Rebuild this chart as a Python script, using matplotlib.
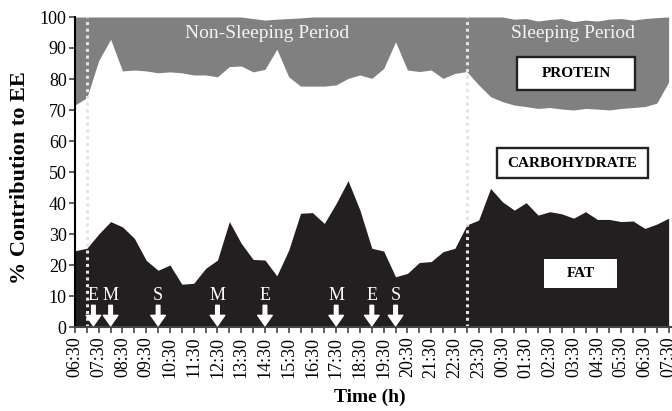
import matplotlib
matplotlib.use("Agg")
import matplotlib.pyplot as plt
import numpy as np

plt.rcParams['font.family'] = ['Liberation Serif', 'DejaVu Serif']

# half-hour steps from 06:30 to 07:30 next day
hours = ['06:30', '07:30', '08:30', '09:30', '10:30', '11:30', '12:30', '13:30',
         '14:30', '15:30', '16:30', '17:30', '18:30', '19:30', '20:30', '21:30',
         '22:30', '23:30', '00:30', '01:30', '02:30', '03:30', '04:30', '05:30',
         '06:30', '07:30']

fat = [24.6, 25.4, 30.0, 34.0, 32.3, 28.6, 21.5, 18.3, 20.0, 13.8, 14.1, 18.9,
       21.6, 34.0, 27.0, 21.8, 21.6, 16.5, 24.8, 36.7, 36.9, 33.4, 39.9, 47.2,
       37.7, 25.4, 24.5, 16.2, 17.3, 20.8, 21.1, 24.3, 25.4, 32.9, 34.5, 44.7,
       40.4, 37.7, 40.1, 36.1, 37.2, 36.5, 35.1, 37.2, 34.7, 34.7, 34.0, 34.2,
       31.8, 33.2, 35.1]

# fat + carbohydrate (lower edge of the protein band)
carb_top = [71.6, 74.0, 86.0, 92.8, 82.6, 82.9, 82.6, 82.0, 82.3, 82.0, 81.3,
            81.3, 80.7, 84.0, 84.2, 82.3, 83.1, 89.6, 80.7, 77.7, 77.7, 77.7,
            78.1, 80.2, 81.3, 80.2, 83.4, 92.0, 82.9, 82.4, 82.9, 80.2, 81.8,
            82.4, 78.1, 74.3, 72.7, 71.6, 71.1, 70.5, 70.8, 70.3, 70.0, 70.5,
            70.3, 70.0, 70.5, 70.8, 71.1, 72.2, 79.0]

# upper edge of the protein band
total = [100, 100, 100, 100, 100, 100, 100, 100, 100, 100, 100, 100, 100, 100,
         100, 99.5, 99.0, 99.3, 99.5, 99.7, 100, 100, 100, 100, 100, 100, 100,
         100, 100, 100, 100, 100, 100, 100, 100, 100, 100, 99.3, 99.5, 98.7,
         99.2, 99.5, 98.5, 99.0, 98.7, 99.3, 99.5, 99.0, 99.5, 99.8, 100]

# meals / snacks (in half-hour steps from 06:30)
meal_pos = [1.55, 3.0, 7.0, 12.0, 16.0, 22.0, 25.0, 27.0]
meal_lab = ['E', 'M', 'S', 'M', 'E', 'M', 'E', 'S']

sleep_start = 33   # 23:00
sleep_end = 1      # 07:00

x = np.arange(len(fat))

fig = plt.figure(figsize=(6.72, 4.11), dpi=100)
ax = fig.add_axes([75/672, 1 - 327/411, 596/672, 310/411])

ax.fill_between(x, carb_top, total, color='#808080', lw=0)
ax.fill_between(x, 0, fat, color='#231f20', lw=0)

for xv in [sleep_end, sleep_start]:
    ax.plot([xv, xv], [0, 100], color='#e4e4e4', lw=2.2, ls=(0, (1, 1.2)))

for p, lab in zip(meal_pos, meal_lab):
    ax.annotate('', xy=(p, 0.4), xytext=(p, 7.0),
                arrowprops=dict(facecolor='white', edgecolor='white', width=2.6,
                                headwidth=10.5, headlength=7.5, shrink=0))
    ax.text(p, 10.2, lab, color='white', fontsize=13, ha='center', va='center')

ax.text(16.2, 94.8, 'Non-Sleeping Period', color='#f4f4f4', fontsize=14,
        ha='center', va='center')
ax.text(41.95, 94.8, 'Sleeping Period', color='#f4f4f4', fontsize=14,
        ha='center', va='center')

ax.add_patch(plt.Rectangle((37.24, 76.5), 9.94, 10.6, fc='white', ec='#222222', lw=1.7))
ax.text(42.2, 81.8, 'PROTEIN', fontsize=11, fontweight='bold', ha='center', va='center')
ax.add_patch(plt.Rectangle((35.55, 48.1), 12.72, 9.6, fc='white', ec='#222222', lw=1.7))
ax.text(41.9, 52.9, 'CARBOHYDRATE', fontsize=11, fontweight='bold', ha='center', va='center')
ax.add_patch(plt.Rectangle((39.5, 12.6), 6.17, 9.3, fc='white', ec='none'))
ax.text(42.6, 17.2, 'FAT', fontsize=11, fontweight='bold', ha='center', va='center')

ax.set_xlim(0, 50.2)
ax.set_ylim(0, 100)
ax.set_yticks(range(0, 101, 10))
ax.set_xticks(range(51))
ax.set_xticklabels([hours[i // 2] if i % 2 == 0 else '' for i in range(51)],
                   rotation=90)
ax.tick_params(axis='both', labelsize=13, length=4, width=1.2, color='#444444')
ax.tick_params(axis='x', pad=3)
ax.tick_params(axis='y', pad=2)

for s in ['top', 'right']:
    ax.spines[s].set_visible(False)
ax.spines['left'].set_linewidth(1.5)
ax.spines['bottom'].set_linewidth(1.5)
ax.spines['bottom'].set_color('#444444')

fig.text(20/672, 1 - 178/411, '% Contribution to EE', rotation=90, fontsize=16,
         fontweight='bold', ha='center', va='center')
fig.text(370/672, 1 - 397/411, 'Time (h)', fontsize=14, fontweight='bold',
         ha='center', va='center')

fig.savefig('out.png', dpi=100)
